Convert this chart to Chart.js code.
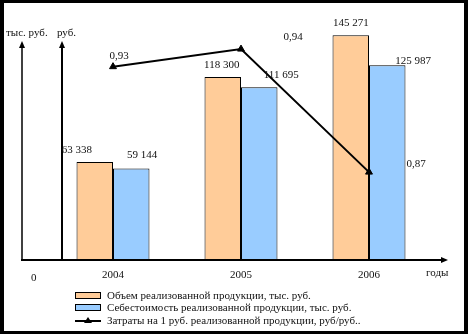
<!DOCTYPE html>
<html>
<head>
<meta charset="utf-8">
<script src="https://cdn.jsdelivr.net/npm/chart.js@4.4.1/dist/chart.umd.min.js"></script>
<style>
html, body { margin: 0; padding: 0; background: #000; }
canvas { display: block; }
</style>
</head>
<body>
<canvas id="chart" width="468" height="334"></canvas>
<script>
// данные
const years = ['2004', '2005', '2006'];
const salesVolume = [63338, 118300, 145271];
const costOfSales = [59144, 111695, 125987];
const costPerRuble = [0.93, 0.94, 0.87];

const seriesNames = [
    'Объем реализованной продукции, тыс. руб.',
    'Себестоимость реализованной продукции, тыс. руб.',
    'Затраты на 1 руб. реализованной продукции, руб/руб..'
];

const FONT = '11px "Liberation Serif", "DejaVu Serif", serif';

function fmtThousands(v) {
    return String(v).replace(/\B(?=(\d{3})+(?!\d))/g, ' ');
}
function fmtComma(v) {
    return v.toFixed(2).replace('.', ',');
}

function arrow(ctx, x, y, dir) {
    ctx.beginPath();
    if (dir === 'up') {
        ctx.moveTo(x, y);
        ctx.lineTo(x - 3, y + 7);
        ctx.lineTo(x + 3, y + 7);
    } else {
        ctx.moveTo(x, y);
        ctx.lineTo(x - 7, y - 3);
        ctx.lineTo(x - 7, y + 3);
    }
    ctx.closePath();
    ctx.fill();
}

const framePlugin = {
    id: 'frame',
    beforeDraw(chart) {
        const ctx = chart.ctx;
        ctx.save();
        ctx.fillStyle = '#000';
        ctx.fillRect(0, 0, chart.width, chart.height);
        ctx.fillStyle = '#fff';
        ctx.fillRect(4, 3, 460, 328);
        ctx.restore();
    },
    afterDatasetsDraw(chart) {
        const ctx = chart.ctx;
        const base = chart.chartArea.bottom;
        ctx.save();
        ctx.strokeStyle = '#000';
        ctx.fillStyle = '#000';
        // оси
        ctx.lineWidth = 1.5;
        ctx.beginPath();
        ctx.moveTo(22, base);
        ctx.lineTo(22, 45);
        ctx.stroke();
        arrow(ctx, 22, 41, 'up');
        ctx.lineWidth = 2;
        ctx.beginPath();
        ctx.moveTo(62, base);
        ctx.lineTo(62, 45);
        ctx.stroke();
        arrow(ctx, 62, 41, 'up');
        ctx.beginPath();
        ctx.moveTo(21, base);
        ctx.lineTo(442, base);
        ctx.stroke();
        arrow(ctx, 448, base, 'right');
        ctx.restore();
    },
    afterDraw(chart, args, opts) {
        const ctx = chart.ctx;
        ctx.save();
        ctx.font = FONT;
        ctx.fillStyle = '#111';
        ctx.textBaseline = 'middle';
        ctx.textAlign = 'left';
        ctx.fillText('тыс. руб.', 6, 33);
        ctx.fillText('руб.', 57, 33);
        ctx.fillText('0', 31, 278);
        ctx.fillText('годы', 426, 273);

        // подписи категорий
        ctx.textAlign = 'center';
        const xs = chart.scales.x;
        years.forEach((y, i) => {
            ctx.fillText(y, xs.getPixelForValue(i), 275);
        });

        // подписи значений
        chart.data.datasets.forEach((ds, di) => {
            const meta = chart.getDatasetMeta(di);
            const offs = opts.offsets[di];
            meta.data.forEach((el, i) => {
                const txt = ds.type === 'line' ? fmtComma(ds.data[i]) : fmtThousands(ds.data[i]);
                ctx.fillText(txt, el.x + offs[i][0], el.y + offs[i][1]);
            });
        });

        // легенда
        ctx.textAlign = 'left';
        const lx = 75, rows = [296, 308, 321];
        chart.data.datasets.forEach((ds, di) => {
            const y = rows[di];
            ctx.fillStyle = '#000';
            if (ds.type === 'line') {
                ctx.strokeStyle = '#000';
                ctx.lineWidth = 2;
                ctx.beginPath();
                ctx.moveTo(lx, y);
                ctx.lineTo(lx + 26, y);
                ctx.stroke();
                ctx.beginPath();
                ctx.moveTo(lx + 13, y - 4);
                ctx.lineTo(lx + 9, y + 2);
                ctx.lineTo(lx + 17, y + 2);
                ctx.closePath();
                ctx.fill();
            } else {
                ctx.fillStyle = ds.backgroundColor;
                ctx.fillRect(lx + 0.5, y - 3.5, 25, 6);
                ctx.strokeStyle = '#000';
                ctx.lineWidth = 1;
                ctx.strokeRect(lx + 0.5, y - 3.5, 25, 6);
            }
            ctx.fillStyle = '#111';
            ctx.fillText(seriesNames[di], lx + 32, y);
        });
        ctx.restore();
    }
};

new Chart(document.getElementById('chart'), {
    data: {
        labels: years,
        datasets: [
            {
                type: 'bar',
                data: salesVolume,
                yAxisID: 'y',
                backgroundColor: '#FFCC99',
                borderColor: '#000',
                borderWidth: 1,
                order: 1
            },
            {
                type: 'bar',
                data: costOfSales,
                yAxisID: 'y',
                backgroundColor: '#99CCFF',
                borderColor: '#000',
                borderWidth: 1,
                order: 1
            },
            {
                type: 'line',
                data: costPerRuble,
                yAxisID: 'y1',
                borderColor: '#000',
                backgroundColor: '#000',
                borderWidth: 2,
                pointStyle: 'triangle',
                pointRadius: 4,
                pointBackgroundColor: '#000',
                pointBorderWidth: 1,
                order: 0
            }
        ]
    },
    options: {
        responsive: false,
        animation: false,
        layout: {
            padding: { left: 49, right: 35, top: 28, bottom: 74 }
        },
        datasets: {
            bar: { barPercentage: 1, categoryPercentage: 0.57 }
        },
        scales: {
            x: { display: false, offset: true },
            y: { display: false, min: 0, max: 150000 },
            y1: { display: false, min: 0.82, max: 0.952 }
        },
        plugins: {
            legend: { display: false },
            tooltip: { enabled: false },
            frame: {
                offsets: [
                    [[-18, -12], [-1, -12], [0, -12]],
                    [[11, -13], [22, -12], [26, -4]],
                    [[6, -11], [52, -12], [47, -8]]
                ]
            }
        }
    },
    plugins: [framePlugin]
});
</script>
</body>
</html>
